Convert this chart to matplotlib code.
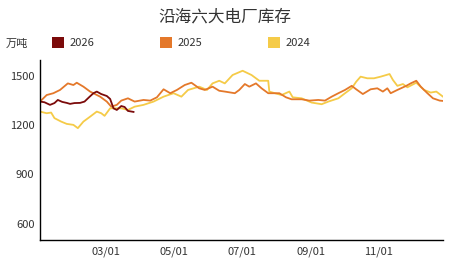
import matplotlib
matplotlib.use("Agg")
import matplotlib.pyplot as plt
from matplotlib.patches import Rectangle

plt.rcParams['font.family'] = ['Noto Sans CJK SC', 'DejaVu Sans']

title = "沿海六大电厂库存"
unit = "万吨"
series_names = ["2026", "2025", "2024"]
colors = ["#7B0A0A", "#E4782A", "#F5CB48"]

days_2026 = [0, 4, 9, 13, 16, 20, 24, 27, 31, 36, 40, 44, 48, 51, 55, 60, 63, 66, 69, 73, 76, 79, 84]
vals_2026 = [1344, 1340, 1324, 1335, 1354, 1342, 1336, 1330, 1335, 1336, 1344, 1370, 1395, 1405, 1390,
             1378, 1360, 1303, 1293, 1317, 1311, 1287, 1281]

days_2025 = [0, 6, 12, 18, 25, 30, 33, 39, 45, 54, 60, 64, 69, 73, 79, 85, 93, 99, 105, 111, 117, 123,
             130, 136, 143, 148, 155, 161, 166, 175, 179, 184, 188, 194, 199, 205, 209, 215, 221, 226,
             235, 242, 250, 256, 262, 268, 274, 280, 284, 290, 297, 303, 308, 312, 315, 321, 329, 333,
             338, 342, 348, 353, 359, 362]
vals_2025 = [1344, 1384, 1395, 1415, 1455, 1445, 1459, 1435, 1405, 1374, 1344, 1313, 1324, 1350, 1364,
             1344, 1354, 1350, 1370, 1419, 1395, 1415, 1445, 1459, 1425, 1415, 1435, 1410, 1405, 1395,
             1415, 1451, 1435, 1455, 1425, 1395, 1395, 1395, 1370, 1358, 1358, 1350, 1354, 1350, 1374,
             1395, 1415, 1440, 1419, 1390, 1419, 1425, 1405, 1425, 1395, 1415, 1440, 1455, 1471, 1435,
             1395, 1364, 1350, 1348]

days_2024 = [0, 6, 10, 13, 19, 24, 30, 34, 39, 45, 51, 55, 58, 63, 69, 73, 79, 85, 93, 102, 111, 120,
             127, 133, 143, 150, 155, 161, 166, 173, 182, 190, 197, 205, 206, 211, 217, 224, 227, 235,
             244, 253, 259, 268, 274, 280, 284, 288, 294, 300, 306, 314, 317, 321, 326, 330, 338, 345,
             351, 356, 362]
vals_2024 = [1283, 1273, 1277, 1243, 1222, 1208, 1202, 1182, 1222, 1252, 1283, 1273, 1257, 1303, 1303,
             1303, 1293, 1313, 1324, 1344, 1374, 1395, 1374, 1415, 1435, 1415, 1455, 1471, 1455, 1506,
             1532, 1506, 1471, 1471, 1405, 1395, 1384, 1405, 1370, 1364, 1338, 1328, 1344, 1364, 1395,
             1425, 1465, 1496, 1486, 1486, 1496, 1512, 1476, 1440, 1451, 1431, 1459, 1415, 1399, 1405,
             1374]

xtick_days = [59, 120, 181, 243, 304]
xtick_labels = ["03/01", "05/01", "07/01", "09/01", "11/01"]
yticks = [600, 900, 1200, 1500]

W, H = 449, 269
fig = plt.figure(figsize=(W / 100, H / 100), dpi=100)
ax = fig.add_axes([40 / W, 1 - 240 / H, 403 / W, (240 - 59.6) / H])

# draw older first so 2026 is on top
for d, v, c in [(days_2024, vals_2024, colors[2]), (days_2025, vals_2025, colors[1]),
                (days_2026, vals_2026, colors[0])]:
    ax.plot(d, v, color=c, lw=1.3, solid_joinstyle='round')

ax.set_xlim(0, 362)
ax.set_ylim(500, 1600)
ax.set_xticks(xtick_days)
ax.set_xticklabels(xtick_labels)
ax.set_yticks(yticks)
ax.tick_params(length=0, labelsize=8, labelcolor="#333333")
ax.tick_params(axis='x', pad=5)
ax.tick_params(axis='y', pad=4)
for s in ["top", "right"]:
    ax.spines[s].set_visible(False)
for s in ["left", "bottom"]:
    ax.spines[s].set_color("black")
    ax.spines[s].set_linewidth(1.0)

fig.text(225 / W, 1 - 17 / H, title, ha="center", va="center", fontsize=12, color="#333333")
fig.text(6 / W, 1 - 44 / H, unit, ha="left", va="center", fontsize=8, color="#333333")
leg_x = [52, 160, 268]
for x, name, c in zip(leg_x, series_names, colors):
    fig.patches.append(Rectangle((x / W, 1 - 48 / H), 12 / W, 11 / H, transform=fig.transFigure,
                                 facecolor=c, edgecolor="none"))
    fig.text((x + 18) / W, 1 - 43 / H, name, ha="left", va="center", fontsize=8, color="#333333")

fig.savefig("out.png", dpi=100)
